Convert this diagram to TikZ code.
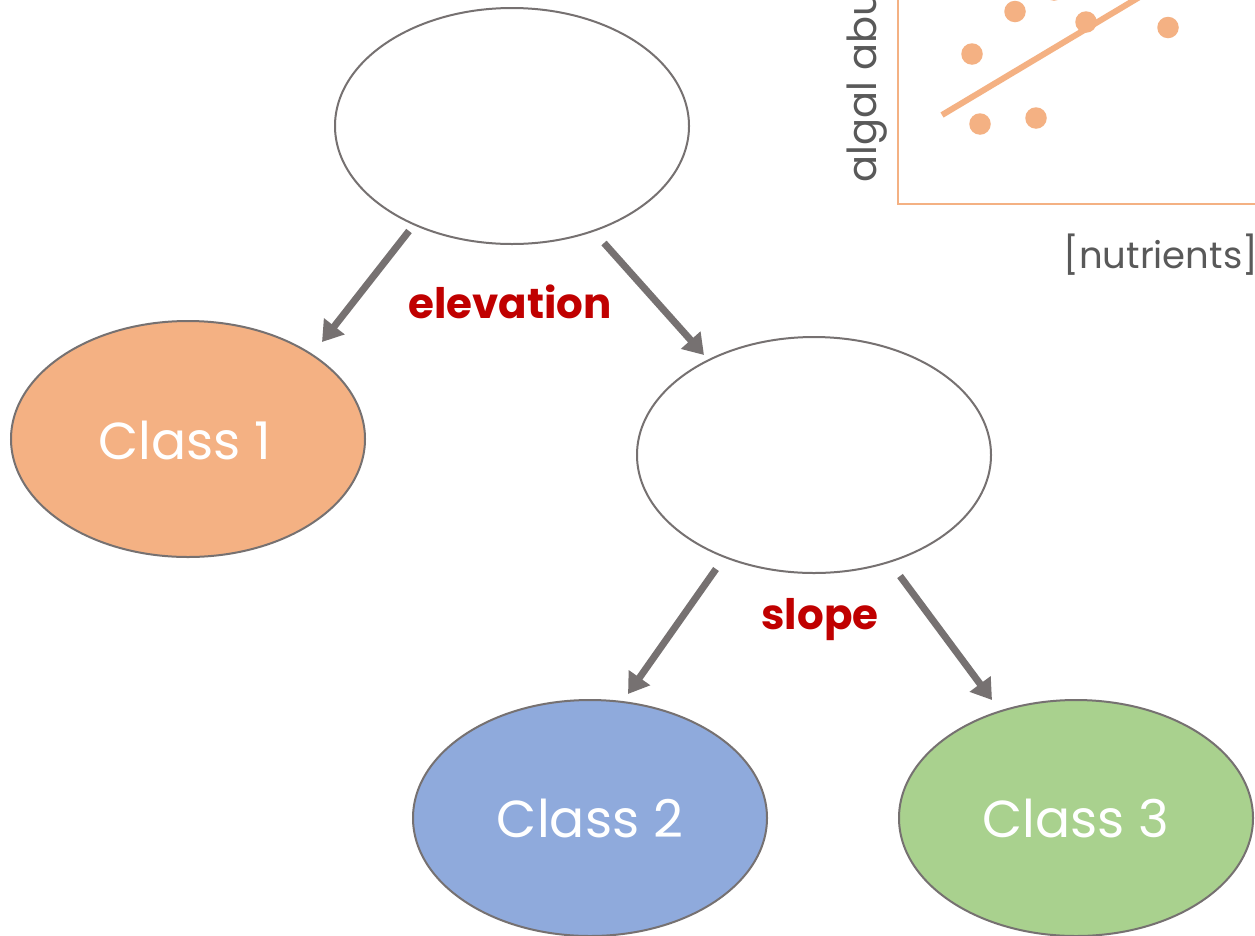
\documentclass[tikz,border=0pt]{standalone}
\usepackage{fontspec}
\setmainfont{Poppins}
\usetikzlibrary{shapes.geometric,arrows.meta,calc}
\definecolor{edgegray}{HTML}{767171}
\definecolor{labred}{HTML}{C00000}
\definecolor{txtgray}{HTML}{595959}
\definecolor{c1fill}{HTML}{F4B183}
\definecolor{c2fill}{HTML}{8FAADC}
\definecolor{c3fill}{HTML}{A9D18E}
\tikzset{
  treenode/.style={ellipse, draw=edgegray, line width=2pt, minimum width=354pt, minimum height=236pt, inner sep=0pt, fill=white},
  classtext/.style={text=white, font=\fontsize{52}{60}\selectfont},
  branch/.style={draw=edgegray, line width=7pt, -{Triangle[length=20pt,width=25pt]}},
  splitlabel/.style={text=labred, font=\bfseries\fontsize{42}{46}\selectfont},
  axislbl/.style={text=txtgray, font=\fontsize{40}{44}\selectfont},
  dot/.style={circle, fill=c1fill, minimum size=21.5pt, inner sep=0pt},
}
\begin{document}
\begin{tikzpicture}[x=1pt,y=-1pt]
\useasboundingbox (0,0) rectangle (1255,935);
\clip (0,0) rectangle (1255,935);
\fill[white] (0,0) rectangle (1255,935);
% scatter plot (partial)
\draw[c1fill, line width=2.5pt] (898,-10) -- (898,204) -- (1265,204);
\node[dot] (p1) at (972,54) {};
\node[dot] (p2) at (1015,11.5) {};
\node[dot] (p3) at (1086,22) {};
\node[dot] (p4) at (1168,27.5) {};
\node[dot] (p5) at (980,124) {};
\node[dot] (p6) at (1036,118) {};
\node[dot] (p7) at (1054,-10) {};
\coordinate (fitA) at (942,115);
\coordinate (fitB) at (1255,-72);
\draw[c1fill, line width=6pt] (fitA) -- (fitB);
\node[axislbl, rotate=90, anchor=base west] (ylab) at (876,186) {algal abundance};
\node[axislbl, anchor=base west, font=\fontsize{37}{42}\selectfont] (xlab) at (1060,268) {[nutrients]};
% tree
\node[treenode] (top) at (512,126) {};
\node[treenode] (mid) at (814,455) {};
\node[treenode, fill=c1fill] (c1) at (188,439) {};
\node[treenode, fill=c2fill] (c2) at (590,818) {};
\node[treenode, fill=c3fill] (c3) at (1076,818) {};
\node[classtext] (t1) at ($(c1.center)+(-3,1)$) {Class 1};
\node[classtext] (t2) at (c2) {Class 2};
\node[classtext] (t3) at (c3) {Class 3};
\draw[branch] ($(top.center)+(-103,105)$) -- ($(c1.center)+(134,-97)$);
\draw[branch] ($(top.center)+(92,117)$) -- ($(mid.center)+(-110,-100)$);
\draw[branch] ($(mid.center)+(-98,114)$) -- ($(c2.center)+(38,-124)$);
\draw[branch] ($(mid.center)+(86,121)$) -- ($(c3.center)+(-84,-118)$);
\node[splitlabel] (l1) at (510,302) {elevation};
\node[splitlabel] (l2) at (820,620) {slope};
\end{tikzpicture}
\end{document}
